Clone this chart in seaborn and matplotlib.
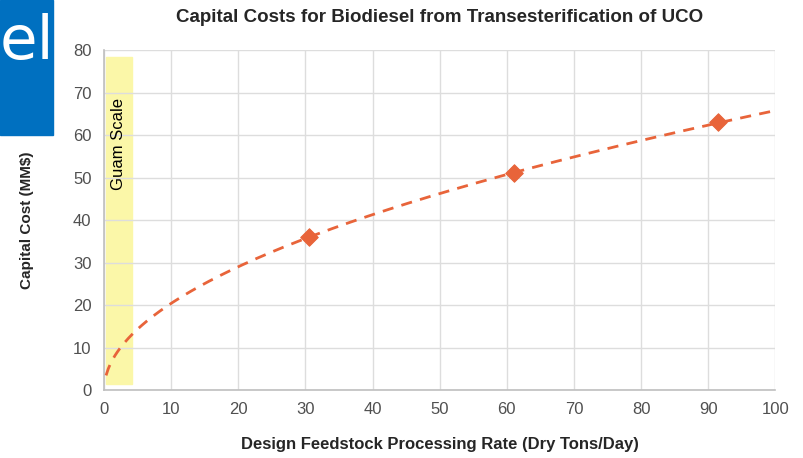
import numpy as np
import pandas as pd
import matplotlib
matplotlib.use('Agg')
import matplotlib.pyplot as plt
from matplotlib.patches import Rectangle
import seaborn as sns

# du lieu doc tu hinh
rate = [30.5, 61, 91.5]          # Dry Tons/Day
cost = [36, 51, 63]              # MM$
x_ticks = list(range(0, 101, 10))
y_ticks = list(range(0, 81, 10))

# duong xu huong luy thua (giong trendline cua Excel), khop tu 3 diem
b, log_a = np.polyfit(np.log(rate), np.log(cost), 1)
x_trend = np.linspace(0.3, 100, 300)
trend = pd.DataFrame({'x': x_trend, 'y': np.exp(log_a) * x_trend ** b})
pts = pd.DataFrame({'x': rate, 'y': cost})

sns.set_style('white')
plt.rcParams['font.family'] = ['Liberation Sans Narrow', 'Liberation Sans', 'DejaVu Sans']

fig = plt.figure(figsize=(8.04, 4.58), dpi=100)
ax = fig.add_axes([0.1294, 0.1485, 0.835, 0.742])

orange = '#E8643A'
ax.axvspan(0.3, 4.1, ymin=0.018, ymax=0.98, color='#FBF7A8', zorder=0)
ax.text(2.2, 58, 'Guam Scale', rotation=90, ha='center', va='center',
        fontsize=12, family=['Liberation Sans', 'DejaVu Sans'], color='black')

sns.lineplot(data=trend, x='x', y='y', ax=ax, color=orange, lw=2,
             linestyle=(0, (4, 3)), zorder=3)
sns.scatterplot(data=pts, x='x', y='y', ax=ax, marker='D', s=80,
                color=orange, edgecolor=orange, zorder=4)

ax.set_xlim(0, 100)
ax.set_ylim(0, 80)
ax.set_xticks(x_ticks)
ax.set_yticks(y_ticks)
ax.grid(True, color='#DDDDDD', lw=1)
ax.set_axisbelow(True)
for s in ['top', 'right']:
    ax.spines[s].set_visible(False)
for s in ['left', 'bottom']:
    ax.spines[s].set_color('#BFBFBF')
    ax.spines[s].set_linewidth(1.2)
ax.tick_params(axis='both', length=0, labelsize=12, colors='#505050', pad=9)

ax.set_title('Capital Costs for Biodiesel from Transesterification of UCO',
             fontsize=13.5, fontweight='bold', pad=20)
ax.set_xlabel('Design Feedstock Processing Rate (Dry Tons/Day)',
              fontsize=12, fontweight='bold', labelpad=14)
ax.set_ylabel('Capital Cost (MM$)', fontsize=11, fontweight='bold', labelpad=28)

# hop xanh bi cat tu slide
fig.patches.append(Rectangle((0, 1 - 135 / 458), 53 / 804, 135 / 458,
                             transform=fig.transFigure, color='#0070C0', zorder=5))
fig.text(0.0, 1 - 43 / 458, 'el', color='white', fontsize=44, ha='left', va='center',
         family=['DejaVu Sans'], zorder=6)

plt.savefig('out.png', dpi=100)
